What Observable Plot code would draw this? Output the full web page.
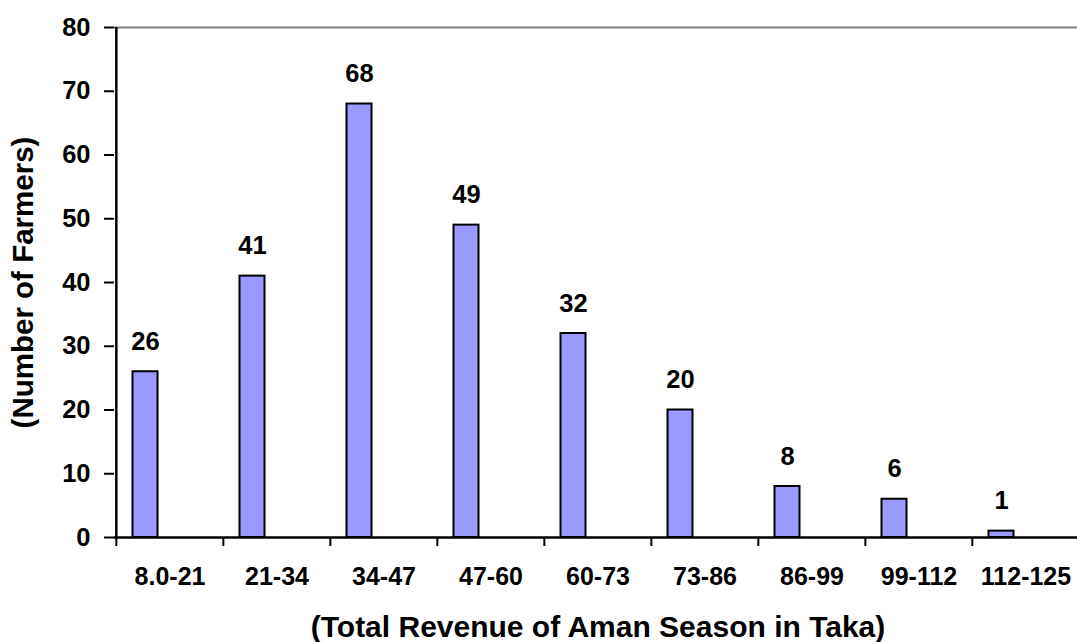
<!DOCTYPE html>
<html><head><meta charset="utf-8">
<script src="https://cdn.jsdelivr.net/npm/d3@7"></script>
<script src="https://cdn.jsdelivr.net/npm/@observablehq/plot@0.6"></script>
<style>body{margin:0;background:#fff}</style>
</head><body><div id="chart"></div>
<script>
const categories = ["8.0-21","21-34","34-47","47-60","60-73","73-86","86-99","99-112","112-125"];
const farmers = [26,41,68,49,32,20,8,6,1];
const yTicks = [0,10,20,30,40,50,60,70,80];
const xTitle = "(Total Revenue of Aman Season in Taka)";
const yTitle = "(Number of Farmers)";

const data = categories.map((c,i)=>({range:c, farmers: farmers[i]}));
const W = 1077, H = 642, left = 114, right = 1080;
const step = (right-left)/categories.length;
const barW = 25;
const pin = 1 - barW/step;
const off = -24.5;

const chart = Plot.plot({
  width: W, height: H, marginLeft: left, marginRight: 0, marginTop: 27, marginBottom: 105,
  style: {fontFamily: "'Liberation Sans', Arial, sans-serif", fontWeight: "bold", color: "#000", background: "#fff"},
  x: {type: "band", domain: categories, range: [left, right], paddingInner: pin, paddingOuter: pin/2},
  y: {domain: [0,80], range: [537, 27]},
  marks: [
    Plot.ruleY([80], {stroke: "#808080", strokeWidth: 2}),
    Plot.barY(data, {x: "range", y: "farmers", fill: "#9999ff", stroke: "#000", strokeWidth: 2, dx: off}),
    Plot.text(data, {x: "range", y: "farmers", text: d => String(d.farmers), dx: off, dy: -22, lineAnchor: "bottom", fontSize: 25.5, fontWeight: "bold", fill: "#000"}),
    Plot.ruleY([0], {stroke: "#000", strokeWidth: 2.5}),
    Plot.ruleX([categories[0]], {x: d => d, y1: 0, y2: 80, dx: -step/2, stroke: "#000", strokeWidth: 2.5}),
    Plot.axisY({ticks: yTicks, tickSize: 10, tickPadding: 14, fontSize: 25.5, label: null, strokeWidth: 2}),
    Plot.axisX({tickSize: 9, dx: -step/2, tickFormat: () => "", label: null, strokeWidth: 2}),
    Plot.axisX({tickSize: 0, tickPadding: 30, fontSize: 25, label: null}),
    Plot.text([xTitle], {frameAnchor: "bottom", dy: 99, dx: 2, lineAnchor: "bottom", textAnchor: "middle", fontSize: 30, fontWeight: "bold", fill: "#000"}),
    Plot.text([yTitle], {frameAnchor: "left", rotate: -90, dx: -91, textAnchor: "middle", fontSize: 29.5, fontWeight: "bold", fill: "#000"})
  ]
});
document.getElementById("chart").appendChild(chart);
</script>
</body></html>
